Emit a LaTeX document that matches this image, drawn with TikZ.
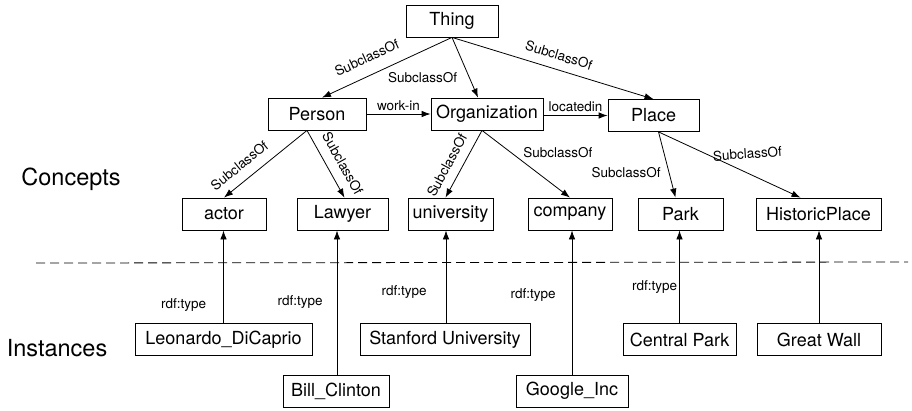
\documentclass[tikz,border=0pt]{standalone}
\usepackage{fontspec}
\setmainfont{TeX Gyre Heros}
\usetikzlibrary{arrows.meta,positioning}

\begin{document}
\begin{tikzpicture}[x=1pt,y=-1pt,>={Latex[length=9pt,width=6.5pt]},line width=0.8pt,
    cls/.style={draw, minimum height=32pt, inner sep=0pt, font=\fontsize{18}{20}\selectfont},
    lbl/.style={inner sep=2pt, font=\fontsize{13.5}{15}\selectfont},
    slbl/.style={lbl, sloped, anchor=south, outer ysep=#1},
    side/.style={font=\fontsize{23.5}{26}\selectfont}]
    \useasboundingbox (0,0) rectangle (912,410);

    % concepts
    \node [cls, minimum width=92pt]  (thing)    at (452,21)    {Thing};
    \node [cls, minimum width=98pt]  (person)   at (317,114)   {Person};
    \node [cls, minimum width=112pt] (org)      at (487,114)   {Organization};
    \node [cls, minimum width=91pt]  (place)    at (653.5,115.5) {Place};
    \node [cls, minimum width=84pt]  (actor)    at (224,214)   {actor};
    \node [cls, minimum width=91pt]  (lawyer)   at (342.5,214) {Lawyer};
    \node [cls, minimum width=85pt]  (univ)     at (450.5,214) {university};
    \node [cls, minimum width=84pt]  (company)  at (570,214)   {company};
    \node [cls, minimum width=85pt]  (park)     at (680.5,214) {Park};
    \node [cls, minimum width=125pt] (historic) at (818.5,214) {HistoricPlace};

    % instances
    \node [cls, minimum width=177pt] (leo)      at (223.5,339.5) {Leonardo\_DiCaprio};
    \node [cls, minimum width=106pt] (bill)     at (336,391)     {Bill\_Clinton};
    \node [cls, minimum width=170pt] (stanford) at (445,339.5)   {Stanford University};
    \node [cls, minimum width=112pt] (google)   at (572,391)     {Google\_Inc};
    \node [cls, minimum width=113pt] (central)  at (679.5,339.5) {Central Park};
    \node [cls, minimum width=124pt] (wall)     at (819,339.5)   {Great Wall};

    \node [side] (concepts)  at (71,179) {Concepts};
    \node [side] (instances) at (57,348) {Instances};

    \coordinate (sepL) at (36,263);
    \coordinate (sepR) at (908,262);
    \draw [dash pattern=on 9pt off 5pt] (sepL) -- (sepR);

    % subclass edges
    \draw [->] (thing.south) -- node [slbl=10pt, pos=.6] {SubclassOf} ([xshift=5pt]person.north);
    \draw [->] (thing.south) -- node [lbl, pos=.67, left=10pt] {SubclassOf} ([xshift=-9pt]org.north);
    \draw [->] (thing.south) -- node [slbl=7pt, pos=.51] {SubclassOf} (place.north);
    \draw [->] (person.east) -- node [lbl, above=1pt] {work-in} (org.west);
    \draw [->] (org.east |- place.west) -- node [lbl, above=1pt] {locatedin} (place.west);

    \draw [->] ([xshift=-10pt]person.south) -- node [slbl=8pt, pos=.7] {SubclassOf} (actor.north);
    \draw [->] ([xshift=-10pt]person.south) -- node [slbl=8pt, pos=.6] {SubclassOf} ([xshift=2pt]lawyer.north);
    \draw [->] ([xshift=-5pt]org.south) -- node [slbl=7pt, pos=.62] {SubclassOf} ([xshift=-5pt]univ.north);
    \draw [->] ([xshift=-5pt]org.south) -- node [lbl, pos=.33, right=10pt] {SubclassOf} (company.north);
    \draw [->] ([xshift=5pt]place.south) -- node [lbl, pos=.615, left=6pt] {SubclassOf} ([xshift=-5pt]park.north);
    \draw [->] ([xshift=5pt]place.south) -- node [lbl, pos=.63, above=12pt, rotate=4] {SubclassOf} ([xshift=-18pt]historic.north);

    % type edges
    \draw [->] (leo.north) -- node [lbl, pos=.19, left=15pt] {rdf:type} (leo.north |- actor.south);
    \draw [->] ([xshift=1pt]bill.north) -- node [lbl, pos=.5, left=12pt] {rdf:type} ([xshift=1pt]bill.north |- lawyer.south);
    \draw [->] ([xshift=1pt]stanford.north) -- node [lbl, pos=.33, left=17pt] {rdf:type} ([xshift=1pt]stanford.north |- univ.south);
    \draw [->] (google.north) -- node [lbl, pos=.55, left=14pt] {rdf:type} (google.north |- company.south);
    \draw [->] (central.north) -- node [lbl, pos=.39, left=0pt] {rdf:type} (central.north |- park.south);
    \draw [->] (wall.north) -- (wall.north |- historic.south);
\end{tikzpicture}
\end{document}
